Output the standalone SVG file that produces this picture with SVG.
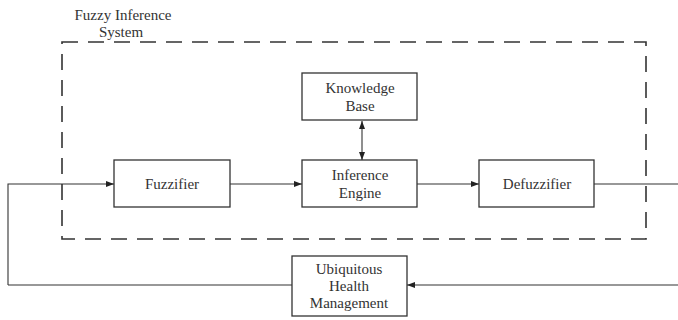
<svg xmlns="http://www.w3.org/2000/svg" width="678" height="320" viewBox="0 0 678 320">
<style>
.box{fill:#fff;stroke:#333;stroke-width:1.3}
.t{font-family:"Liberation Serif","Times New Roman",serif;font-size:15px;fill:#333;text-anchor:middle}
.ln{fill:none;stroke:#333;stroke-width:1.1}
.dash{fill:none;stroke:#333;stroke-width:1.6;stroke-dasharray:16 10}
</style>
<defs>
<marker id="ah" viewBox="0 0 8 6" refX="8" refY="3" markerWidth="8" markerHeight="6" markerUnits="userSpaceOnUse" orient="auto-start-reverse">
<path d="M0,0 L8,3 L0,6 Z" fill="#222"/>
</marker>
</defs>
<rect fill="#fff" x="0" y="0" width="678" height="320"/>
<g id="fis">
<rect class="dash" x="62" y="42" width="584" height="197"/>
<text class="t" x="123" y="20">Fuzzy Inference</text>
<text class="t" x="121" y="37">System</text>
</g>
<g id="connectors">
<path class="ln" d="M8,285 V184 H114" marker-end="url(#ah)"/>
<path class="ln" d="M230,184 H302" marker-end="url(#ah)"/>
<path class="ln" d="M417,184 H479" marker-end="url(#ah)"/>
<path class="ln" d="M594,184 H678"/>
<path class="ln" d="M362,121 V160" marker-start="url(#ah)" marker-end="url(#ah)"/>
<path class="ln" d="M678,285 H407" marker-end="url(#ah)"/>
<path class="ln" d="M8,285 H292"/>
</g>
<g id="knowledge-base">
<rect class="box" x="302" y="73" width="115" height="47"/>
<text class="t" x="360" y="93">Knowledge</text>
<text class="t" x="360" y="111">Base</text>
</g>
<g id="fuzzifier">
<rect class="box" x="114" y="160" width="116" height="47"/>
<text class="t" x="172" y="189">Fuzzifier</text>
</g>
<g id="inference-engine">
<rect class="box" x="302" y="160" width="115" height="47"/>
<text class="t" x="360" y="180">Inference</text>
<text class="t" x="360" y="198">Engine</text>
</g>
<g id="defuzzifier">
<rect class="box" x="479" y="160" width="115" height="47"/>
<text class="t" x="537" y="189">Defuzzifier</text>
</g>
<g id="uhm">
<rect class="box" x="292" y="256" width="115" height="60"/>
<text class="t" x="349" y="274">Ubiquitous</text>
<text class="t" x="349" y="291">Health</text>
<text class="t" x="349" y="308">Management</text>
</g>
</svg>
